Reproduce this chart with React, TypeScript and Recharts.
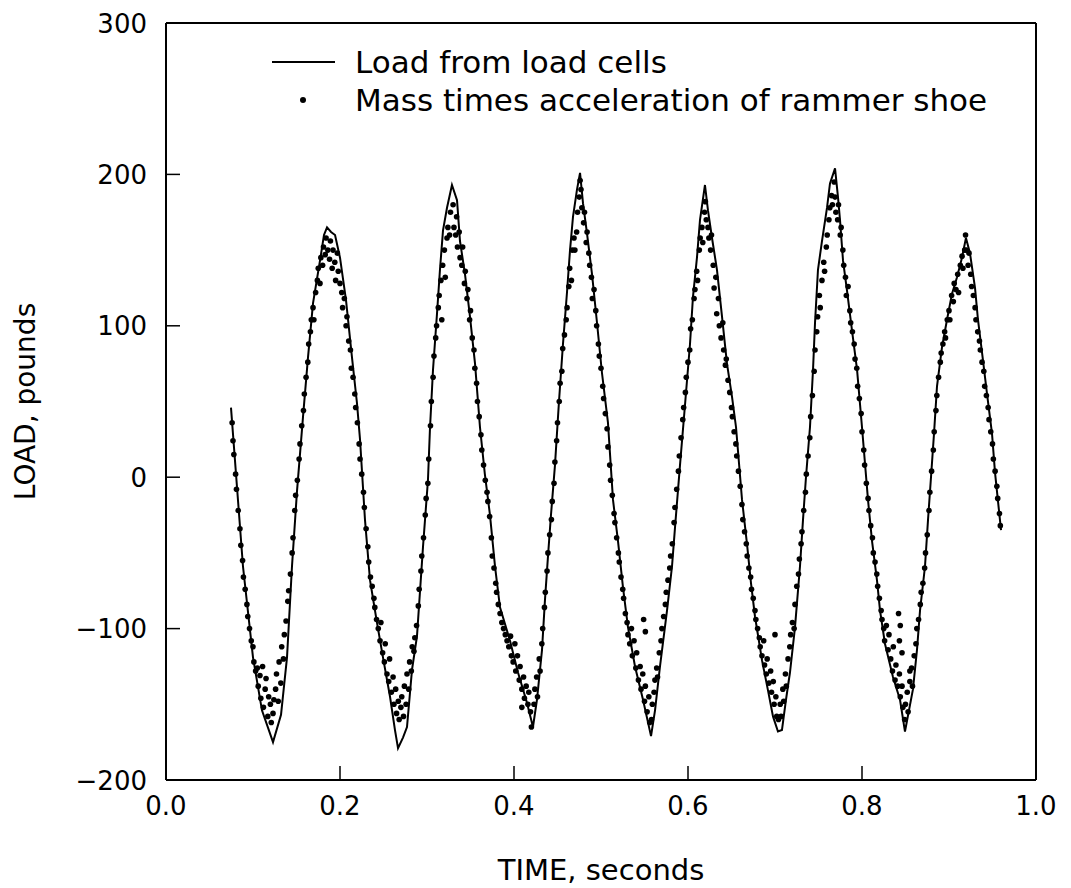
import { ComposedChart, Line, Scatter, XAxis, YAxis, Legend } from "recharts";

const xTicks = [0, 0.2, 0.4, 0.6, 0.8, 1.0];
const yTicks = [-200, -100, 0, 100, 200, 300];

// load cell trace: [time s, load lb]
const loadCells: [number, number][] = [
  [0.0747, 46], [0.0885, -59], [0.1, -119], [0.1103, -154], [0.123, -175], [0.1322, -157], [0.1391, -119],
  [0.1448, -59], [0.1506, -9], [0.1575, 40], [0.1632, 79], [0.169, 115], [0.177, 143], [0.1816, 160],
  [0.1851, 165], [0.1897, 162], [0.1943, 160], [0.2, 145], [0.2069, 117], [0.2138, 79], [0.2195, 49],
  [0.223, 25], [0.2287, -28], [0.2345, -68], [0.2425, -96], [0.2494, -119], [0.2575, -145], [0.2632, -167],
  [0.2667, -179], [0.2724, -172], [0.277, -165], [0.2828, -127], [0.2885, -105], [0.2954, -46], [0.3011, -2],
  [0.3034, 32], [0.3069, 71], [0.3115, 108], [0.3149, 137], [0.3184, 163], [0.323, 178], [0.3287, 193],
  [0.3345, 183], [0.3379, 156], [0.3437, 134], [0.3494, 106], [0.3552, 75], [0.3609, 33], [0.3665, 2],
  [0.3724, -25], [0.3782, -59], [0.3839, -86], [0.3954, -108], [0.4046, -129], [0.4149, -149], [0.4218, -165],
  [0.4264, -147], [0.4322, -114], [0.4356, -81], [0.4391, -52], [0.4425, -25], [0.4471, 8], [0.4517, 50],
  [0.4563, 88], [0.4609, 122], [0.4644, 150], [0.4678, 172], [0.4724, 190], [0.4759, 201], [0.4793, 181],
  [0.4839, 161], [0.4897, 134], [0.4954, 102], [0.5011, 69], [0.508, 36], [0.5138, -15], [0.5195, -42],
  [0.5253, -73], [0.531, -99], [0.5391, -125], [0.5483, -147], [0.5575, -171], [0.5621, -154], [0.5678, -125],
  [0.5759, -88], [0.5816, -59], [0.5851, -33], [0.5908, 8], [0.5966, 48], [0.6023, 88], [0.6057, 119],
  [0.6103, 145], [0.6138, 170], [0.6195, 193], [0.623, 176], [0.6276, 158], [0.6333, 137], [0.6391, 106],
  [0.6448, 75], [0.6506, 53], [0.6552, 33], [0.6621, -15], [0.6678, -44], [0.6724, -70], [0.677, -92],
  [0.6851, -121], [0.692, -141], [0.6977, -158], [0.7034, -168], [0.708, -167], [0.7126, -147], [0.7172, -129],
  [0.723, -99], [0.7287, -59], [0.7322, -28], [0.7356, 0], [0.7402, 33], [0.7437, 71], [0.746, 102],
  [0.7494, 137], [0.754, 156], [0.7598, 178], [0.7632, 194], [0.769, 204], [0.7724, 185], [0.7747, 170],
  [0.7782, 143], [0.7828, 123], [0.7885, 97], [0.7943, 71], [0.8, 33], [0.8069, -15], [0.8115, -42],
  [0.8172, -68], [0.8207, -88], [0.8264, -110], [0.8356, -132], [0.8437, -147], [0.8494, -168], [0.8586, -140],
  [0.8632, -114], [0.8667, -88], [0.8724, -59], [0.8759, -28], [0.8793, 0], [0.8828, 29], [0.8862, 60],
  [0.892, 86], [0.8977, 104], [0.9034, 121], [0.9092, 132], [0.9149, 145], [0.9195, 158], [0.9241, 148],
  [0.9299, 125], [0.9333, 104], [0.9391, 77], [0.9437, 55], [0.9494, 29], [0.9529, 3], [0.9598, -35],
];

// mass times acceleration of rammer shoe: [time s, load lb]
const massAccel: [number, number][] = [
  [0.076, 36], [0.077, 24], [0.078, 15], [0.08, 2], [0.081, -8], [0.083, -22], [0.085, -34], [0.086, -45],
  [0.088, -55], [0.089, -66], [0.091, -74], [0.093, -84], [0.094, -92], [0.096, -100], [0.098, -108], [0.1, -112],
  [0.101, -122], [0.103, -128], [0.105, -126], [0.106, -138], [0.108, -131], [0.109, -146], [0.111, -125],
  [0.112, -152], [0.114, -140], [0.115, -133], [0.117, -158], [0.118, -145], [0.12, -150], [0.121, -162], [0.123, -156],
  [0.124, -147], [0.126, -140], [0.127, -130], [0.129, -148], [0.13, -122], [0.132, -136], [0.133, -112], [0.135, -120],
  [0.136, -104], [0.138, -95], [0.14, -82], [0.141, -75], [0.143, -64], [0.145, -50], [0.146, -40], [0.148, -22],
  [0.149, -12], [0.151, -2], [0.153, 12], [0.154, 22], [0.156, 34], [0.158, 44], [0.159, 55], [0.161, 66],
  [0.163, 76], [0.164, 88], [0.166, 96], [0.167, 104], [0.169, 112], [0.17, 104], [0.172, 122], [0.174, 130],
  [0.175, 138], [0.177, 128], [0.178, 145], [0.18, 140], [0.181, 152], [0.183, 147], [0.184, 158],
  [0.186, 150], [0.188, 144], [0.189, 156], [0.191, 138], [0.192, 150], [0.194, 142], [0.195, 130], [0.197, 148],
  [0.198, 136], [0.2, 128], [0.202, 122], [0.203, 112], [0.205, 118], [0.207, 100], [0.208, 106], [0.21, 90],
  [0.212, 84], [0.213, 72], [0.215, 66], [0.217, 55], [0.218, 46], [0.22, 36], [0.222, 22], [0.223, 12],
  [0.225, 2], [0.227, -10], [0.228, -20], [0.23, -34], [0.232, -46], [0.233, -56], [0.235, -66], [0.237, -72],
  [0.239, -80], [0.24, -86], [0.242, -94], [0.244, -100], [0.246, -108], [0.247, -96], [0.249, -116], [0.251, -122],
  [0.252, -110], [0.254, -130], [0.256, -135], [0.257, -120], [0.259, -142], [0.261, -132], [0.262, -150],
  [0.264, -140], [0.265, -156], [0.267, -148],
  [0.268, -160], [0.27, -152], [0.271, -145], [0.273, -158], [0.274, -138], [0.276, -150], [0.277, -130],
  [0.279, -140], [0.28, -122], [0.282, -128], [0.283, -112], [0.285, -115], [0.286, -106], [0.288, -98],
  [0.29, -85], [0.291, -74], [0.293, -62], [0.294, -52], [0.296, -40], [0.298, -25], [0.299, -14], [0.301, -4],
  [0.302, 12], [0.304, 34], [0.305, 50], [0.307, 66], [0.308, 80], [0.31, 92], [0.311, 100], [0.313, 112],
  [0.314, 120], [0.316, 130], [0.317, 104], [0.318, 140], [0.32, 150], [0.321, 132], [0.323, 158], [0.324, 165],
  [0.326, 160], [0.327, 175],
  [0.33, 180], [0.331, 165], [0.333, 160], [0.334, 172], [0.335, 152], [0.337, 162], [0.338, 145], [0.34, 140],
  [0.341, 152], [0.343, 128], [0.344, 136], [0.346, 118], [0.347, 124], [0.349, 104], [0.35, 110], [0.352, 92],
  [0.354, 84], [0.355, 72], [0.357, 62], [0.358, 50], [0.36, 40], [0.362, 28], [0.363, 18], [0.365, 8],
  [0.367, -2], [0.369, -10], [0.37, -16], [0.372, -26], [0.374, -40], [0.375, -52], [0.377, -60], [0.379, -70],
  [0.38, -76], [0.382, -84], [0.384, -90], [0.386, -96], [0.388, -100], [0.39, -104], [0.392, -108], [0.394, -112],
  [0.396, -105], [0.397, -118], [0.399, -122], [0.401, -110], [0.402, -128], [0.404, -118], [0.406, -134],
  [0.409, -152], [0.407, -125], [0.409, -140], [0.411, -132], [0.412, -146], [0.414, -138], [0.416, -150],
  [0.417, -142], [0.419, -155], [0.42, -165],
  [0.423, -150], [0.424, -140], [0.426, -132], [0.427, -145], [0.429, -120], [0.43, -128], [0.432, -110],
  [0.433, -100], [0.435, -86], [0.436, -76], [0.438, -62], [0.439, -50], [0.441, -38], [0.443, -28], [0.444, -16],
  [0.446, -4], [0.447, 10], [0.449, 24], [0.45, 36], [0.452, 50], [0.453, 62], [0.455, 70], [0.456, 85],
  [0.458, 94], [0.46, 104], [0.461, 112], [0.463, 126], [0.464, 138], [0.466, 130], [0.467, 150], [0.469, 158],
  [0.47, 150], [0.472, 162], [0.473, 175], [0.475, 185], [0.476, 196],
  [0.477, 190], [0.478, 178], [0.48, 168], [0.481, 175], [0.483, 155], [0.484, 162], [0.486, 148], [0.487, 140],
  [0.489, 132], [0.49, 118], [0.492, 124], [0.494, 110], [0.495, 100], [0.497, 88], [0.498, 80], [0.5, 72],
  [0.502, 60], [0.503, 52], [0.505, 42], [0.507, 32], [0.508, 20], [0.51, 8], [0.511, -2], [0.513, -12],
  [0.515, -24], [0.516, -30], [0.518, -40], [0.52, -50], [0.521, -56], [0.523, -66], [0.525, -74], [0.526, -80],
  [0.528, -90], [0.53, -96], [0.531, -104], [0.533, -110], [0.535, -100], [0.536, -118], [0.538, -108],
  [0.54, -126], [0.541, -116], [0.543, -134], [0.545, -125], [0.546, -140], [0.548, -130], [0.549, -94],
  [0.55, -148], [0.551, -102], [0.551, -138], [0.553, -155], [0.555, -145], [0.556, -162],
  [0.558, -160], [0.559, -150], [0.561, -142], [0.562, -134], [0.564, -126], [0.565, -132], [0.567, -116],
  [0.569, -108], [0.57, -100], [0.572, -92], [0.574, -84], [0.575, -76], [0.577, -68], [0.579, -60], [0.58, -52],
  [0.582, -44], [0.584, -30], [0.585, -20], [0.587, -8], [0.589, 4], [0.59, 14], [0.592, 26], [0.594, 38],
  [0.595, 46], [0.597, 56], [0.598, 66], [0.6, 76], [0.602, 84], [0.603, 98], [0.605, 104], [0.607, 118],
  [0.608, 124], [0.61, 136], [0.611, 130], [0.613, 150], [0.614, 158], [0.616, 165], [0.617, 155], [0.619, 175],
  [0.62, 182], [0.621, 170], [0.623, 165], [0.624, 158], [0.626, 150], [0.627, 160], [0.629, 140], [0.63, 125],
  [0.632, 132], [0.633, 108], [0.635, 118], [0.636, 100], [0.638, 92], [0.64, 102], [0.641, 84], [0.643, 74],
  [0.644, 78], [0.646, 64], [0.648, 56], [0.65, 46], [0.651, 40], [0.653, 30], [0.655, 22], [0.656, 14],
  [0.658, 4], [0.66, -6], [0.662, -18], [0.663, -28], [0.665, -36], [0.667, -44], [0.668, -52], [0.67, -60],
  [0.672, -66], [0.673, -74], [0.675, -80], [0.677, -88], [0.678, -94], [0.68, -100], [0.682, -106],
  [0.683, -112], [0.685, -118], [0.687, -108], [0.688, -124], [0.69, -130], [0.691, -120], [0.693, -136],
  [0.695, -128], [0.696, -142], [0.698, -135], [0.699, -150], [0.7, -104], [0.701, -145], [0.702, -158],
  [0.704, -160], [0.706, -150], [0.707, -158], [0.709, -140], [0.71, -148], [0.712, -130], [0.713, -138],
  [0.715, -120], [0.717, -112], [0.718, -104], [0.72, -96], [0.722, -100], [0.723, -84], [0.725, -72],
  [0.727, -64], [0.728, -54], [0.73, -44], [0.731, -36], [0.733, -22], [0.735, -10], [0.736, 2], [0.738, 14],
  [0.74, 26], [0.741, 40], [0.743, 54], [0.745, 70], [0.746, 84], [0.748, 96], [0.749, 106], [0.751, 120],
  [0.752, 112], [0.754, 130], [0.756, 142], [0.757, 136], [0.759, 152], [0.76, 160], [0.762, 170], [0.763, 178],
  [0.765, 186], [0.766, 180], [0.768, 195],
  [0.769, 185], [0.77, 175], [0.772, 170], [0.773, 180], [0.775, 160], [0.776, 165], [0.778, 150], [0.779, 140],
  [0.781, 132], [0.782, 120], [0.784, 126], [0.786, 110], [0.787, 102], [0.789, 96], [0.791, 88], [0.792, 78],
  [0.794, 72], [0.795, 60], [0.797, 52], [0.799, 42], [0.8, 30], [0.802, 18], [0.803, 8], [0.805, -4],
  [0.807, -14], [0.808, -22], [0.81, -32], [0.812, -40], [0.813, -50], [0.815, -56], [0.817, -64], [0.818, -72],
  [0.82, -80], [0.822, -88], [0.823, -94], [0.825, -100], [0.826, -108], [0.828, -98], [0.83, -114],
  [0.831, -104], [0.833, -120], [0.835, -128], [0.836, -112], [0.838, -134], [0.839, -124], [0.841, -138],
  [0.842, -90], [0.843, -108], [0.843, -130], [0.844, -98], [0.844, -145], [0.846, -116], [0.846, -138],
  [0.847, -152], [0.849, -160],
  [0.85, -150], [0.852, -142], [0.853, -155], [0.855, -128], [0.855, -135], [0.857, -126], [0.858, -138],
  [0.86, -118], [0.862, -110], [0.863, -100], [0.865, -94], [0.867, -84], [0.868, -76], [0.87, -70],
  [0.872, -60], [0.873, -50], [0.875, -38], [0.877, -22], [0.878, -10], [0.88, 4], [0.882, 18], [0.883, 30],
  [0.885, 44], [0.886, 54], [0.888, 66], [0.89, 76], [0.891, 82], [0.893, 88], [0.895, 96], [0.896, 92],
  [0.898, 104], [0.9, 110], [0.901, 104], [0.903, 120], [0.905, 116], [0.906, 128], [0.908, 124], [0.91, 134],
  [0.911, 122], [0.913, 140], [0.915, 146], [0.916, 138], [0.918, 150], [0.919, 160],
  [0.92, 150], [0.922, 140], [0.923, 148], [0.925, 134], [0.926, 126], [0.928, 120], [0.93, 112], [0.931, 104],
  [0.933, 96], [0.935, 90], [0.936, 84], [0.938, 76], [0.94, 70], [0.941, 60], [0.943, 54], [0.945, 46],
  [0.946, 38], [0.948, 30], [0.95, 22], [0.951, 12], [0.953, 4], [0.955, -6], [0.956, -14], [0.958, -24],
  [0.959, -32],
];

const lineData = loadCells.map(([t, v]) => ({ t, v }));
const dotData = massAccel.map(([t, v]) => ({ t, v }));

const FONT = "DejaVu Sans";
const INK = "#000";
const TICK = 14;
const fmtY = (v: number) => (v < 0 ? `\u2212${-v}` : `${v}`);

type TickProps = { x?: number; y?: number; payload?: { value: number } };

// ticks point into the plot, labels sit outside
const BottomTick = ({ x = 0, y = 0, payload }: TickProps) => (
  <g>
    <line x1={x} y1={y} x2={x} y2={y - TICK} stroke={INK} strokeWidth={1.5} />
    <text x={x} y={y + 35} textAnchor="middle" fontSize={26} fontFamily={FONT} fill={INK}>
      {payload ? payload.value.toFixed(1) : ""}
    </text>
  </g>
);
const TopTick = ({ x = 0, y = 0 }: TickProps) => (
  <line x1={x} y1={y} x2={x} y2={y + TICK} stroke={INK} strokeWidth={1.5} />
);
const LeftTick = ({ x = 0, y = 0, payload }: TickProps) => (
  <g>
    <line x1={x} y1={y} x2={x + TICK} y2={y} stroke={INK} strokeWidth={1.5} />
    <text x={x - 19} y={y + 9.5} textAnchor="end" fontSize={26} fontFamily={FONT} fill={INK}>
      {payload ? fmtY(payload.value) : ""}
    </text>
  </g>
);
const RightTick = ({ x = 0, y = 0 }: TickProps) => (
  <line x1={x} y1={y} x2={x - TICK} y2={y} stroke={INK} strokeWidth={1.5} />
);

function LegendBox() {
  return (
    <svg width={760} height={96} style={{ display: "block" }}>
      <line x1={22} y1={32} x2={85} y2={32} stroke={INK} strokeWidth={2} />
      <text x={105} y={43} fontSize={31} fontFamily={FONT} fill={INK}>Load from load cells</text>
      <circle cx={53} cy={70} r={3} fill={INK} />
      <text x={105} y={81} fontSize={31} fontFamily={FONT} fill={INK}>Mass times acceleration of rammer shoe</text>
    </svg>
  );
}

const Dot = (p: { cx?: number; cy?: number }) => <circle cx={p.cx} cy={p.cy} r={2.8} fill={INK} />;
const frame = { stroke: INK, strokeWidth: 2 };

export default function App() {
  return (
    <div style={{ position: "absolute", left: 0, top: 0, background: "#fff" }}>
      <ComposedChart width={1071} height={888} margin={{ top: 22, right: 34, bottom: 8, left: 0 }}>
        <XAxis
          dataKey="t" type="number" domain={[0, 1]} ticks={xTicks} interval={0}
          height={100} tickSize={0} tickMargin={0} axisLine={frame} tickLine={false}
          tick={<BottomTick />}
          label={{ value: "TIME, seconds", position: "insideBottom", offset: 0, fontSize: 29, fill: INK, fontFamily: FONT }}
        />
        <XAxis
          xAxisId="top" orientation="top" type="number" domain={[0, 1]} ticks={xTicks} interval={0}
          height={1} tickSize={0} tickMargin={0} axisLine={frame} tickLine={false} tick={<TopTick />}
        />
        <YAxis
          type="number" domain={[-200, 300]} ticks={yTicks} interval={0}
          width={166} tickSize={0} tickMargin={0} axisLine={frame} tickLine={false}
          tick={<LeftTick />}
          label={{
            value: "LOAD, pounds", angle: -90, position: "insideLeft", offset: 25,
            fontSize: 28, fill: INK, fontFamily: FONT, style: { textAnchor: "middle" },
          }}
        />
        <YAxis
          yAxisId="right" orientation="right" type="number" domain={[-200, 300]} ticks={yTicks} interval={0}
          width={1} tickSize={0} tickMargin={0} axisLine={frame} tickLine={false} tick={<RightTick />}
        />
        <Legend
          layout="horizontal" align="center" verticalAlign="middle"
          content={<LegendBox />}
          wrapperStyle={{ position: "absolute", left: 250, top: 30, width: 760, height: 96 }}
        />
        <Line
          data={lineData} dataKey="v" type="linear" stroke={INK} strokeWidth={2}
          dot={false} activeDot={false} isAnimationActive={false}
        />
        <Scatter data={dotData} dataKey="v" fill={INK} shape={Dot} isAnimationActive={false} />
      </ComposedChart>
    </div>
  );
}
